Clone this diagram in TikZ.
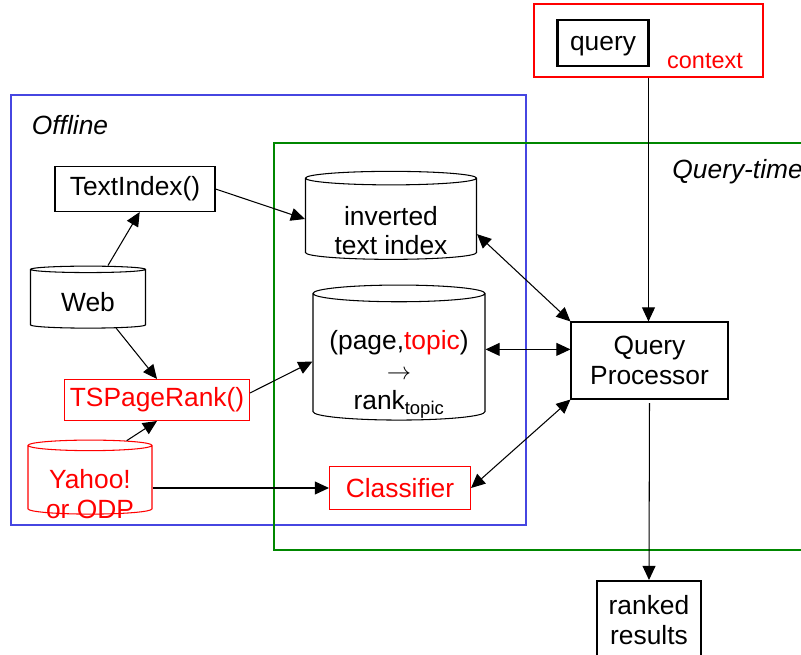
\documentclass[tikz,border=0pt]{standalone}
\usepackage{fontspec}
\setmainfont{Liberation Sans}
\usetikzlibrary{arrows.meta,calc,positioning,shapes.geometric}
\definecolor{offblue}{RGB}{70,70,225}
\definecolor{qtgreen}{RGB}{0,135,0}
% Text im Zylinder etwas tiefer setzen
\newcommand{\dbtext}[2]{\raisebox{-#1}[0pt][0pt]{\begin{tabular}{@{}c@{}}#2\end{tabular}}}

\begin{document}
\begin{tikzpicture}[x=0.03cm, y=-0.03cm, line width=0.9pt,
  >={Triangle[length=12pt,width=11pt]},
  txt/.style={font=\fontsize{22.5}{25.5}\selectfont},
  box/.style={txt, draw, align=center, inner sep=0pt},
  redbox/.style={box, draw=red, text=red},
  db/.style={txt, draw, cylinder, shape border rotate=90, aspect=0.12, align=center, inner sep=0pt}]

\useasboundingbox (0,0) rectangle (801,655);

% Rahmen
\draw[offblue, line width=1.1pt] (11,95) rectangle (526,525);
\draw[qtgreen, line width=1.1pt] (815,143) -| (274,550) -- (815,550);
\node[txt, font=\fontsize{22.5}{25.5}\selectfont\itshape] (offlbl) at (70,125) {Offline};
\node[txt, font=\fontsize{22.5}{25.5}\selectfont\itshape, anchor=west] (qtlbl) at (668,172) {Query-time};

% Kontext oben
\node[draw=red, line width=1.2pt, minimum width=6.87cm, minimum height=2.19cm] (ctx) at (648.5,40.5) {};
\node[box, line width=2.2pt, minimum width=2.73cm, minimum height=1.38cm, text depth=0pt] (query) at (603,43) {query};
\node[text=red, font=\fontsize{20}{24}\selectfont] (ctxlbl) at (705,61) {context};

% Offline
\node[box, minimum width=4.8cm, minimum height=1.35cm] (textidx) at (135,189) {TextIndex()};
\node[db, minimum width=3.45cm, minimum height=1.86cm] (web) at (88,299) {\dbtext{11pt}{Web}};
\node[redbox, minimum width=5.55cm, minimum height=1.23cm] (tspr) at (157,400) {TSPageRank()};
\node[db, draw=red, text=red, minimum width=3.72cm, minimum height=2.22cm] (yahoo) at (90,480)
  {\dbtext{20pt}{Yahoo!\\or ODP}};

% Query-time
\node[db, minimum width=5.13cm, minimum height=2.64cm] (inv) at (391,219) {\dbtext{18pt}{inverted\\text index}};
\node[db, minimum width=5.16cm, minimum height=4.05cm] (pt) at (399,357)
  {\dbtext{19pt}{(page,\textcolor{red}{topic})\\$\rightarrow$\\rank\textsubscript{topic}}};
\node[redbox, minimum width=4.23cm, minimum height=1.29cm] (cls) at (400,488) {Classifier};
\node[box, minimum width=4.71cm, minimum height=2.31cm] (qp) at (649.5,360.5) {Query\\Processor};
\node[box, line width=1.8pt, anchor=north, minimum width=3.12cm, inner ysep=12pt] (rr) at (649,580) {ranked\\results};

% Verbindungen
\draw[->] ([xshift=17pt]web.north) -- ([xshift=4pt]textidx.south);
\draw[->] (textidx.east) -- (inv.180);
\draw[->] (web.-46) -- (tspr.north);
\draw[->] (yahoo.47) -- (tspr.south);
\draw[->] ([yshift=6pt]tspr.east) -- (pt.183);
\draw[->] (yahoo.east |- cls.west) -- (cls.west);
\draw[<->] (inv.-10) -- (qp.north west);
\draw[<->] (pt.0 |- qp.172) -- (qp.172);
\draw[<->] (cls.east) -- (qp.south west);
\draw[->] (ctx.south) -- (ctx.south |- qp.north);
\draw[->, shorten <=3pt] (qp.south) -- (rr.north);

\end{tikzpicture}
\end{document}
